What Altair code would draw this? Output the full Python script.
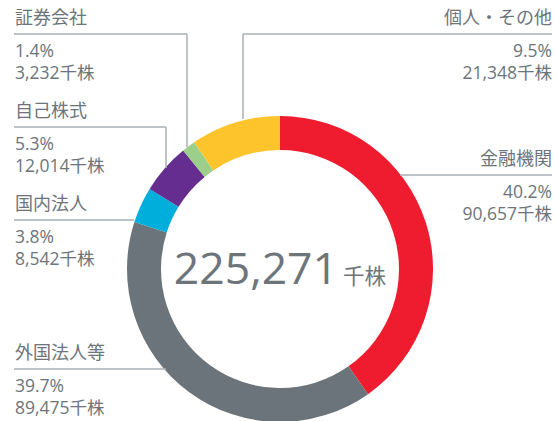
import altair as alt
import pandas as pd

# ---- data ----
categories = ["金融機関", "外国法人等", "国内法人", "自己株式", "証券会社", "個人・その他"]
shares = [90657, 89475, 8542, 12014, 3232, 21348]   # 千株
pcts = [40.2, 39.7, 3.8, 5.3, 1.4, 9.5]              # %
total_shares = 225271                                # 千株
colors = ["#ee1c2e", "#6b747a", "#00aedb", "#662d91", "#9bcf8a", "#fec42b"]

# ---- layout (pixels) ----
W, H = 555, 421
CX, CY = 280, 269
R_IN, R_OUT = 119, 153
label_side = ["right", "left", "left", "left", "left", "right"]
label_line_y = [175, 369, 220, 127, 34, 34]
LEFT_X, RIGHT_X = 15, 552
# leader line segments: (x1, y1, x2, y2)
leader_segments = [
    (400, 175, 552, 175),
    (14, 369, 166, 369),
    (14, 220, 134, 220),
    (14, 127, 166, 127), (166, 127, 166, 168),
    (14, 34, 187, 34), (187, 34, 187, 147),
    (243, 34, 552, 34), (243, 34, 243, 119),
]

FONT = "Open Sans, Noto Sans CJK JP, sans-serif"
TEXT_COLOR = "#6d757b"
LINE_COLOR = "#a9afb4"

arc_df = pd.DataFrame({
    "category": categories,
    "shares": shares,
    "order": list(range(len(categories))),
})

rows = []
for cat, s, p, side, ly in zip(categories, shares, pcts, label_side, label_line_y):
    x = LEFT_X if side == "left" else RIGHT_X
    rows.append({"t": cat, "x": x, "y": ly - 15, "side": side, "size": 18})
    rows.append({"t": f"{p:.1f}%", "x": x, "y": ly + 18, "side": side, "size": 17.5})
    rows.append({"t": f"{s:,}千株", "x": x, "y": ly + 40, "side": side, "size": 17.5})
text_df = pd.DataFrame(rows)

seg_df = pd.DataFrame(leader_segments, columns=["x1", "y1", "x2", "y2"])

center_df = pd.DataFrame({"num": [f"{total_shares:,}"], "unit": ["千株"]})

arc = alt.Chart(arc_df).mark_arc(innerRadius=R_IN, outerRadius=R_OUT).encode(
    theta=alt.Theta("shares:Q", stack=True),
    order=alt.Order("order:Q"),
    color=alt.Color("category:N", scale=alt.Scale(domain=categories, range=colors), legend=None),
    x=alt.value(CX),
    y=alt.value(CY),
)

lines = alt.Chart(seg_df).mark_rule(color=LINE_COLOR, strokeWidth=1.5).encode(
    x=alt.X("x1:Q", scale=None, axis=None),
    y=alt.Y("y1:Q", scale=None, axis=None),
    x2="x2:Q",
    y2="y2:Q",
)

def label_layer(side, align):
    base = alt.Chart(text_df).transform_filter(alt.datum.side == side)
    return base.mark_text(
        align=align, baseline="middle", font=FONT, color=TEXT_COLOR
    ).encode(
        x=alt.X("x:Q", scale=None, axis=None),
        y=alt.Y("y:Q", scale=None, axis=None),
        text="t:N",
        size=alt.Size("size:Q", scale=None, legend=None),
    )

left_labels = label_layer("left", "left")
right_labels = label_layer("right", "right")

center_num = alt.Chart(center_df).mark_text(
    align="right", baseline="alphabetic", font=FONT, color=TEXT_COLOR, fontSize=44.5
).encode(x=alt.value(338), y=alt.value(284), text="num:N")

center_unit = alt.Chart(center_df).mark_text(
    align="left", baseline="alphabetic", font=FONT, color=TEXT_COLOR, fontSize=21.5
).encode(x=alt.value(343), y=alt.value(284), text="unit:N")

chart = alt.layer(arc, lines, left_labels, right_labels, center_num, center_unit).properties(
    width=W, height=H, autosize=alt.AutoSizeParams(type="none"), padding=0,
    background="white",
).configure_view(stroke=None)

chart.save("out.html", embed_options={"renderer": "svg", "actions": False})
